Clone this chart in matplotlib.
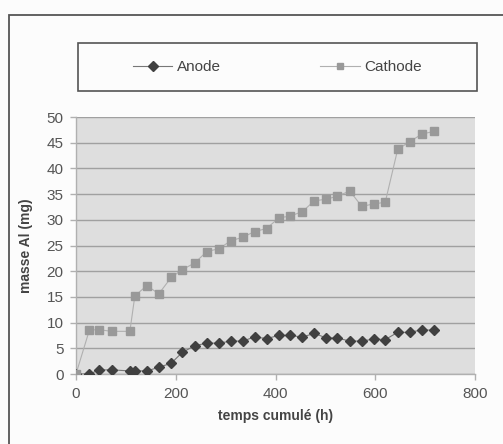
import matplotlib
matplotlib.use('Agg')
import matplotlib.pyplot as plt
from matplotlib.patches import Rectangle

plt.rcParams['font.family'] = ['Liberation Sans', 'DejaVu Sans']

# temps cumulé (h)
temps = [0, 27, 47, 72, 108, 118, 142, 166, 191, 213, 238, 262, 287, 310, 334,
         358, 382, 407, 429, 454, 478, 502, 524, 549, 573, 597, 620, 645, 669,
         694, 718]
# masse Al (mg)
anode = [0.0, 0.0, 0.8, 0.8, 0.6, 0.6, 0.6, 1.3, 2.1, 4.2, 5.5, 6.0, 6.0, 6.4,
         6.4, 7.2, 6.9, 7.5, 7.5, 7.2, 7.9, 7.0, 7.0, 6.4, 6.4, 6.8, 6.7, 8.1,
         8.1, 8.6, 8.5]
cathode = [0.0, 8.6, 8.6, 8.3, 8.3, 15.2, 17.2, 15.6, 18.8, 20.3, 21.6, 23.8,
           24.4, 25.9, 26.6, 27.7, 28.3, 30.4, 30.7, 31.6, 33.7, 34.0, 34.6,
           35.6, 32.6, 33.1, 33.4, 43.7, 45.2, 46.7, 47.2]

fig = plt.figure(figsize=(5.03, 4.44), dpi=100)
fig.patch.set_facecolor('#fcfcfc')
W, H = 503.0, 444.0

# outer frame (only left and top visible)
fig.patches.append(Rectangle((9 / W, -0.1), 1.2, (H - 15) / H + 0.1,
                             transform=fig.transFigure, fill=False,
                             edgecolor='#555555', linewidth=1.3))

ax = fig.add_axes([76 / W, (H - 374) / H, (475 - 76) / W, (374 - 117) / H])
ax.set_facecolor('#dedede')

l1, = ax.plot(temps, anode, color='#777777', linewidth=0.8, marker='D',
              markersize=5.5, markerfacecolor='#404040', markeredgecolor='#404040',
              label='Anode', zorder=3)
l2, = ax.plot(temps, cathode, color='#b0b0b0', linewidth=0.8, marker='s',
              markersize=6, markerfacecolor='#999999', markeredgecolor='#999999',
              label='Cathode', zorder=4)

ax.set_xlim(0, 800)
ax.set_ylim(0, 50)
ax.set_xticks(range(0, 801, 200))
ax.set_yticks(range(0, 51, 5))
ax.yaxis.grid(True, color='#a0a0a0', linewidth=1.0)
ax.set_axisbelow(True)

for side in ['top', 'right']:
    ax.spines[side].set_visible(False)
for side in ['left', 'bottom']:
    ax.spines[side].set_color('#b0b0b0')
    ax.spines[side].set_linewidth(1.0)

ax.tick_params(axis='both', colors='#b0b0b0', labelcolor='#555555',
               labelsize=11, length=4, width=1)
ax.tick_params(axis='x', pad=5)
ax.tick_params(axis='y', pad=5)

ax.set_xlabel('temps cumulé (h)', fontsize=10, fontweight='bold',
              color='#444444', labelpad=6)
ax.set_ylabel('masse Al (mg)', fontsize=10, fontweight='bold',
              color='#444444', labelpad=10)

leg = fig.legend(handles=[l1, l2], loc='center',
                 bbox_to_anchor=(78 / W, (H - 91) / H, (477 - 78) / W, 48 / H),
                 ncol=2, frameon=False, fontsize=11, handlelength=2.6,
                 handletextpad=0.3, columnspacing=6.5, borderaxespad=0)
for t in leg.get_texts():
    t.set_color('#444444')
for h in leg.legend_handles:
    h.set_markersize(5)

fig.patches.append(Rectangle((78 / W, (H - 91) / H), (477 - 78) / W, 48 / H,
                             transform=fig.transFigure, fill=False,
                             edgecolor='#555555', linewidth=1.2))

fig.savefig('out.png', dpi=100)
